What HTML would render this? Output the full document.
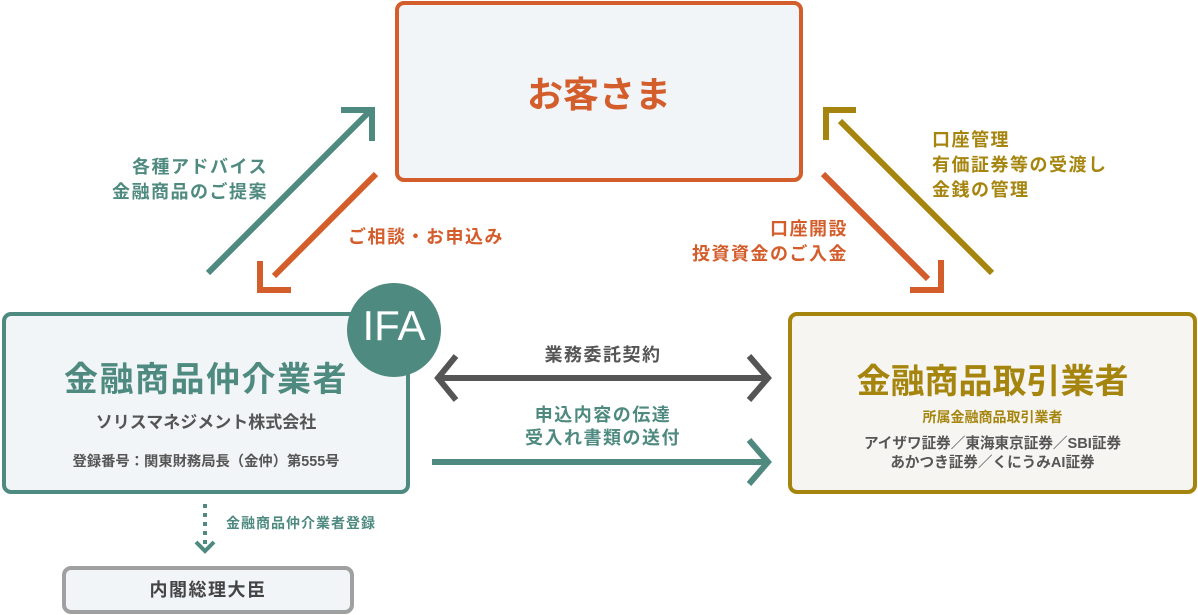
<!DOCTYPE html>
<html><head><meta charset="utf-8"><style>
body{margin:0;width:1198px;height:615px;background:#fff;position:relative;overflow:hidden;font-family:"Liberation Sans","Noto Sans CJK JP",sans-serif;font-weight:bold}
.box{position:absolute;box-sizing:border-box;border-radius:9px;border:4px solid}
.t{position:absolute;white-space:nowrap;text-align:center}
.l{font-size:18px;letter-spacing:1.5px;line-height:25px}
svg{position:absolute;left:0;top:0}
</style></head><body>
<div class="box" style="left:395px;top:1px;width:408px;height:181px;border-color:#d45d2c;background:#f2f5f8"></div>
<div class="t" style="left:395px;width:408px;top:66px;font-size:36px;color:#d45d2c">お客さま</div>

<div class="box" style="left:2px;top:312px;width:408px;height:182px;border-color:#4e8a7f;background:#f2f5f8"></div>
<div class="t" style="left:2px;width:408px;top:352px;font-size:34px;letter-spacing:1.5px;color:#4e8a7f">金融商品仲介業者</div>
<div class="t" style="left:2px;width:408px;top:408px;font-size:17px;color:#555">ソリスマネジメント株式会社</div>
<div class="t" style="left:2px;width:408px;top:450px;font-size:14.3px;color:#555">登録番号：関東財務局長（金仲）第555号</div>
<div style="position:absolute;left:347px;top:283px;width:94px;height:94px;border-radius:50%;background:#4e8a7f"></div>
<div class="t" style="left:347px;width:94px;top:302px;font-size:42px;color:#fff;font-weight:normal">IFA</div>

<div class="box" style="left:788px;top:312px;width:409px;height:182px;border-color:#a6850e;background:#f6f5f2"></div>
<div class="t" style="left:788px;width:409px;top:354px;font-size:34px;color:#a6850e">金融商品取引業者</div>
<div class="t" style="left:788px;width:409px;top:407px;font-size:14px;color:#a6850e">所属金融商品取引業者</div>
<div class="t" style="left:788px;width:409px;top:435px;font-size:14.6px;color:#555;line-height:19px">アイザワ証券／東海東京証券／SBI証券<br>あかつき証券／くにうみAI証券</div>

<div class="box" style="left:62px;top:566px;width:292px;height:48px;border-color:#a0a0a0;background:#f2f5f8"></div>
<div class="t l" style="left:62px;width:292px;top:578px;color:#444">内閣総理大臣</div>

<svg width="1198" height="615" fill="none" stroke-width="6" stroke-linecap="butt">
<g stroke="#4e8a7f"><line x1="208" y1="273" x2="370" y2="111"/><polyline points="341,110 372,110 372,141"/></g>
<g stroke="#d45d2c"><line x1="376" y1="174" x2="274" y2="276"/><polyline points="260,261 260,290 291,290"/></g>
<g stroke="#d45d2c"><line x1="823" y1="174" x2="928" y2="279"/><polyline points="910,290 941,290 941,260"/></g>
<g stroke="#a6850e"><line x1="992" y1="273" x2="840" y2="121"/><polyline points="826,140 826,110 856,110"/></g>
<g stroke="#555"><line x1="440" y1="378" x2="766" y2="378"/><polyline points="456,356 438,378 456,400"/><polyline points="749,356 768,378 749,400"/></g>
<g stroke="#4e8a7f"><line x1="432" y1="462" x2="766" y2="462"/><polyline points="749,440 768,462 749,484"/></g>
<g stroke="#4e8a7f" stroke-width="4"><line x1="205" y1="504" x2="205" y2="548" stroke-dasharray="4,5"/><polyline points="196,542 205,551 214,542"/></g>
</svg>

<div class="t l" style="left:60px;top:155px;color:#4e8a7f;text-align:right;width:208px">各種アドバイス<br>金融商品のご提案</div>
<div class="t l" style="left:348px;top:225px;color:#d45d2c">ご相談・お申込み</div>
<div class="t l" style="left:630px;top:217px;width:218px;color:#d45d2c;text-align:right">口座開設<br>投資資金のご入金</div>
<div class="t l" style="left:932px;top:128px;color:#a6850e;text-align:left">口座管理<br>有価証券等の受渡し<br>金銭の管理</div>
<div class="t l" style="left:438px;width:330px;top:343px;color:#555">業務委託契約</div>
<div class="t l" style="left:438px;width:330px;top:404px;color:#4e8a7f;line-height:23px">申込内容の伝達<br>受入れ書類の送付</div>
<div class="t" style="left:226px;top:513px;font-size:14px;letter-spacing:1px;color:#4e8a7f">金融商品仲介業者登録</div>
</body></html>
